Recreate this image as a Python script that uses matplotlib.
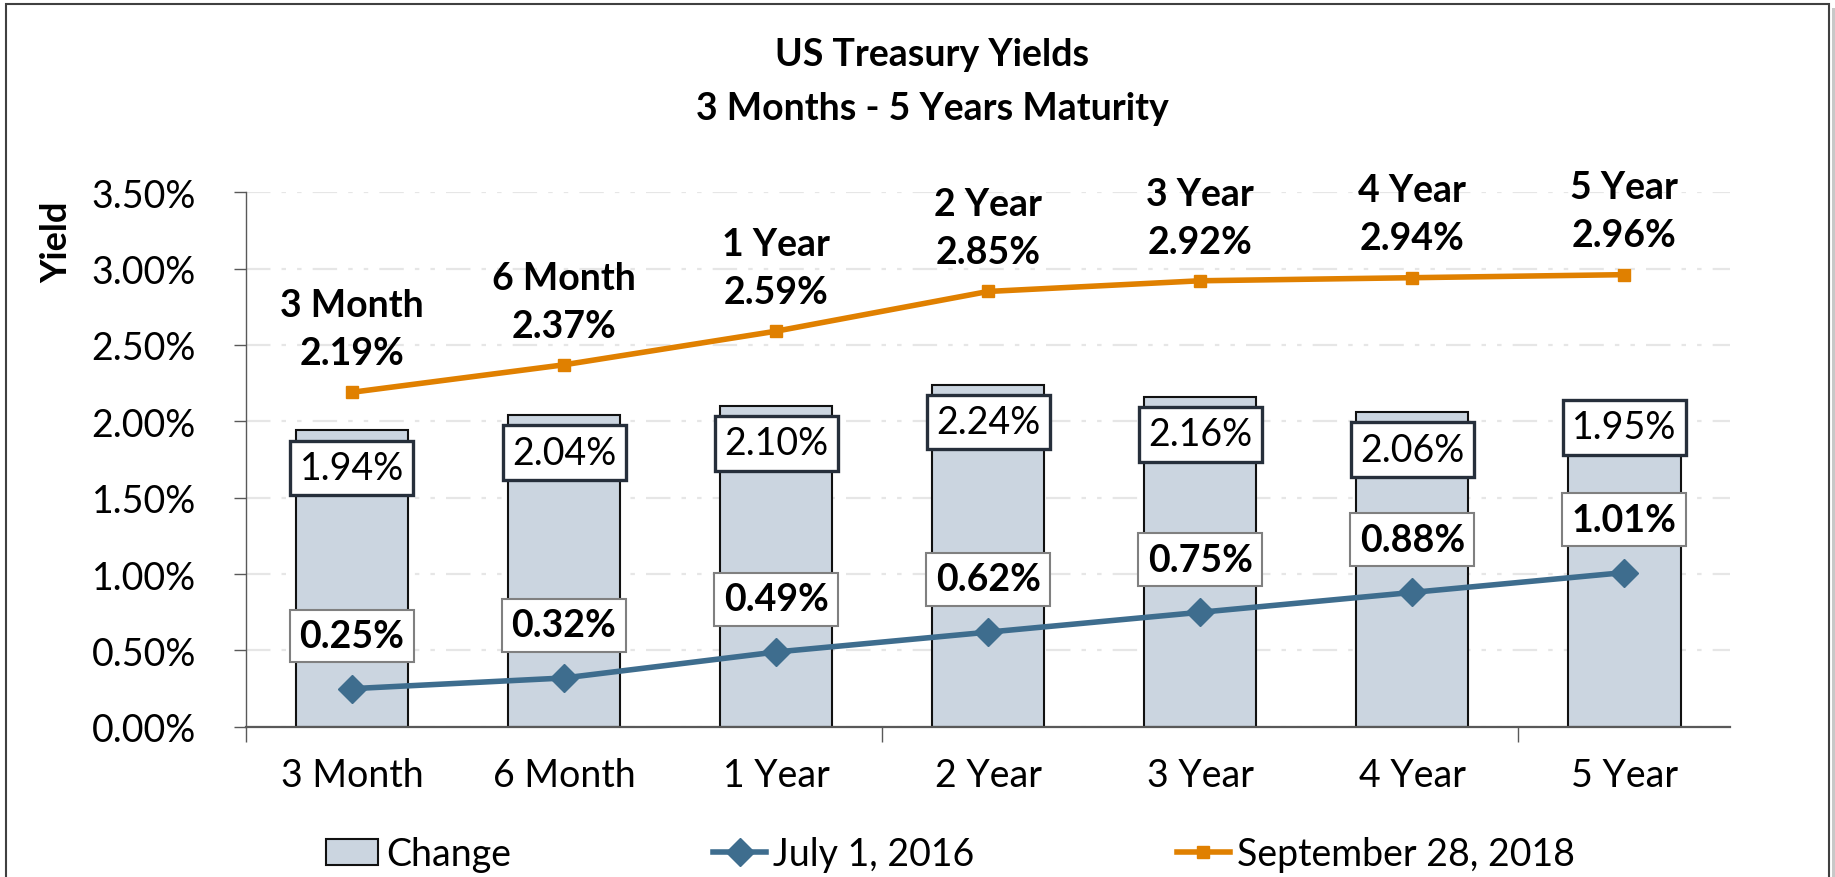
import matplotlib
matplotlib.use("Agg")
import matplotlib.pyplot as plt
from matplotlib.patches import Rectangle
from matplotlib.lines import Line2D

plt.rcParams["font.family"] = ["Lato", "DejaVu Sans"]

# data
maturities = ["3 Month", "6 Month", "1 Year", "2 Year", "3 Year", "4 Year", "5 Year"]
july_2016 = [0.25, 0.32, 0.49, 0.62, 0.75, 0.88, 1.01]
sept_2018 = [2.19, 2.37, 2.59, 2.85, 2.92, 2.94, 2.96]
change = [1.94, 2.04, 2.10, 2.24, 2.16, 2.06, 1.95]
yticks = [0.0, 0.5, 1.0, 1.5, 2.0, 2.5, 3.0, 3.5]

BAR = "#cbd5e0"
BLUE = "#3e6d8e"
ORANGE = "#e08000"
FS = 27

fig = plt.figure(figsize=(18.35, 8.78), dpi=100)
ax = fig.add_axes([0.134, 0.171, 0.809, 0.609])

x = list(range(len(maturities)))
ax.bar(x, change, width=0.53, color=BAR, edgecolor="#111111", linewidth=1.5, zorder=2)
ax.plot(x, july_2016, color=BLUE, lw=4, marker="D", ms=14, zorder=4)
ax.plot(x, sept_2018, color=ORANGE, lw=4, marker="s", ms=9, zorder=4)

ax.set_xlim(-0.5, len(maturities) - 0.5)
ax.set_ylim(0, 3.5)
ax.set_yticks(yticks)
ax.set_yticklabels([f"{v:.2f}%" for v in yticks], fontsize=FS)
ax.set_xticks(x)
ax.set_xticklabels(maturities, fontsize=FS)
ax.tick_params(axis="x", length=0, pad=22)
ax.set_xticks([-0.5, 2.5, 5.5], minor=True)
ax.tick_params(axis="x", which="minor", length=11, width=1, color="#595959", direction="out")
ax.tick_params(axis="y", length=9, width=1, color="#595959", pad=27)

for side in ("top", "right"):
    ax.spines[side].set_visible(False)
ax.spines["left"].set_color("#595959")
ax.spines["left"].set_linewidth(1)
ax.spines["bottom"].set_color("#595959")
ax.spines["bottom"].set_linewidth(1.6)
ax.spines["bottom"].set_zorder(3)

ax.yaxis.grid(True, color="#e6e6e6", lw=1.6, dashes=(11, 5, 2, 5, 2, 5), zorder=0)
ax.set_axisbelow(True)

# labels for the 2016 line (grey boxes above points)
jul_off = 0.345
for i, v in enumerate(july_2016):
    ax.text(i, v + jul_off, f"{v:.2f}%", ha="center", va="center", fontsize=FS,
            fontweight="bold", zorder=6,
            bbox=dict(boxstyle="square,pad=0.25", fc="white", ec="#808080", lw=1.5))

# labels for the change bars (dark boxes near bar top, moved up if they hit the 2016 label)
for i, v in enumerate(change):
    y = v - 0.245
    if y - (july_2016[i] + jul_off) < 0.42:
        y = v + 0.01
    ax.text(i, y, f"{v:.2f}%", ha="center", va="center", fontsize=FS, zorder=6,
            bbox=dict(boxstyle="square,pad=0.25", fc="white", ec="#262f3b", lw=2.4))

# labels for the 2018 line
for i, v in enumerate(sept_2018):
    ax.annotate(f"{maturities[i]}\n{v:.2f}%", (i, v), xytext=(0, 16),
                textcoords="offset points", ha="center", va="bottom", fontsize=FS,
                fontweight="bold", linespacing=1.5, zorder=6)

fig.text(0.508, 0.937, "US Treasury Yields", ha="center", va="center",
         fontsize=FS, fontweight="bold")
fig.text(0.508, 0.876, "3 Months - 5 Years Maturity", ha="center", va="center",
         fontsize=FS, fontweight="bold")
fig.text(0.031, 0.724, "Yield", rotation=90, ha="center", va="center",
         fontsize=26, fontweight="bold")

handles = [
    Rectangle((0, 0), 1, 1, fc=BAR, ec="#111111", lw=1.5),
    Line2D([], [], color=BLUE, lw=4, marker="D", ms=14),
    Line2D([], [], color=ORANGE, lw=4, marker="s", ms=9),
]
fig.legend(handles, ["Change", "July 1, 2016", "September 28, 2018"], ncol=3,
           loc="center", bbox_to_anchor=(0.518, 0.026), frameon=False, fontsize=FS,
           handlelength=1.4, handletextpad=0.2, columnspacing=5.4)

# chart frame with a soft shadow on the right
fig.patches.append(Rectangle((1832 / 1835, -0.1), 4 / 1835, 1.09, transform=fig.transFigure,
                             fc="#c8c8c8", ec="none"))
fig.patches.append(Rectangle((6 / 1835, -0.1), 1823 / 1835, 1.094, transform=fig.transFigure,
                             fill=False, ec="#404040", lw=1.5))

fig.savefig("out.png", dpi=100)
